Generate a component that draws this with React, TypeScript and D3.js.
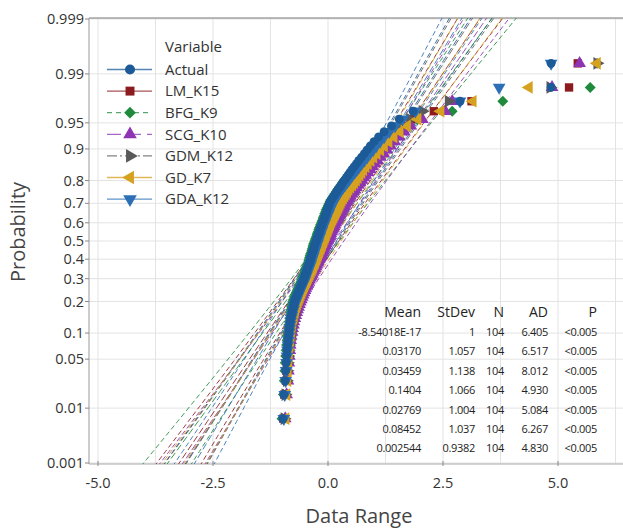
import React from 'react';
import * as d3 from 'd3';

// ---------- DATA (sorted values) ----------
const seriesNames = ['Actual', 'LM_K15', 'BFG_K9', 'SCG_K10', 'GDM_K12', 'GD_K7', 'GDA_K12'];

const actual = [-0.98, -0.96,
  -0.93, -0.92, -0.91, -0.90, -0.89, -0.88, -0.87, -0.86,
  -0.85, -0.84, -0.83, -0.82, -0.81, -0.79, -0.78, -0.77, -0.75, -0.74,
  -0.73, -0.71, -0.69, -0.67, -0.65, -0.63, -0.61, -0.59, -0.57, -0.55,
  -0.53, -0.52, -0.50, -0.49, -0.47, -0.46, -0.45, -0.43, -0.42, -0.40,
  -0.39, -0.38, -0.37, -0.36, -0.35, -0.34, -0.32, -0.31, -0.30, -0.29, -0.28, -0.26,
  -0.25, -0.24, -0.22, -0.21, -0.20, -0.18, -0.17, -0.16, -0.14, -0.13, -0.12, -0.10,
  -0.08, -0.07, -0.06, -0.04, -0.03, -0.02, 0.00, 0.01, 0.03, 0.04,
  0.07, 0.10, 0.13, 0.16, 0.19, 0.22, 0.26, 0.29, 0.32, 0.36,
  0.40, 0.44, 0.48, 0.52, 0.57, 0.62, 0.67, 0.73, 0.79, 0.85,
  0.92, 1.00, 1.10, 1.22, 1.38, 1.55,
  1.85, 2.87, 4.85, 4.85];

const lmK15 = [-0.97, -0.95,
  -0.91, -0.90, -0.89, -0.88, -0.87, -0.86, -0.85, -0.84,
  -0.83, -0.82, -0.81, -0.80, -0.79, -0.77, -0.76, -0.74, -0.73, -0.71,
  -0.69, -0.67, -0.65, -0.63, -0.61, -0.59, -0.57, -0.55, -0.53, -0.51,
  -0.49, -0.48, -0.46, -0.45, -0.43, -0.42, -0.40, -0.39, -0.37, -0.36,
  -0.35, -0.34, -0.32, -0.31, -0.30, -0.29, -0.27, -0.26, -0.25, -0.24, -0.22, -0.21,
  -0.20, -0.18, -0.17, -0.16, -0.14, -0.13, -0.11, -0.10, -0.08, -0.07, -0.05, -0.04,
  -0.02, 0.00, 0.01, 0.03, 0.05, 0.07, 0.09, 0.11, 0.13, 0.15,
  0.17, 0.20, 0.23, 0.26, 0.29, 0.32, 0.36, 0.40, 0.44, 0.48,
  0.52, 0.56, 0.61, 0.66, 0.71, 0.77, 0.83, 0.89, 0.96, 1.04,
  1.12, 1.22, 1.33, 1.46, 1.62, 1.80,
  2.30, 3.12, 5.24, 5.43];

const bfgK9 = [-1.00, -0.97,
  -0.95, -0.94, -0.93, -0.92, -0.91, -0.90, -0.89, -0.88,
  -0.87, -0.86, -0.85, -0.84, -0.83, -0.82, -0.81, -0.80, -0.79, -0.78,
  -0.77, -0.75, -0.73, -0.71, -0.69, -0.67, -0.65, -0.63, -0.61, -0.59,
  -0.57, -0.55, -0.54, -0.52, -0.51, -0.49, -0.48, -0.46, -0.45, -0.43,
  -0.42, -0.41, -0.40, -0.39, -0.38, -0.36, -0.35, -0.34, -0.33, -0.32, -0.31, -0.29,
  -0.28, -0.27, -0.25, -0.24, -0.23, -0.21, -0.20, -0.19, -0.17, -0.16, -0.14, -0.13,
  -0.11, -0.10, -0.08, -0.07, -0.05, -0.04, -0.02, 0.00, 0.02, 0.04,
  0.06, 0.09, 0.12, 0.15, 0.18, 0.21, 0.25, 0.28, 0.32, 0.36,
  0.40, 0.44, 0.49, 0.54, 0.59, 0.65, 0.71, 0.78, 0.85, 0.93,
  1.02, 1.12, 1.25, 1.40, 1.60, 1.95,
  2.70, 3.80, 5.70, 5.85];

const scgK10 = [-0.93, -0.90,
  -0.87, -0.86, -0.85, -0.84, -0.83, -0.82, -0.81, -0.80,
  -0.78, -0.77, -0.75, -0.74, -0.72, -0.70, -0.68, -0.66, -0.64, -0.62,
  -0.60, -0.58, -0.56, -0.54, -0.52, -0.50, -0.48, -0.46, -0.44, -0.42,
  -0.40, -0.38, -0.36, -0.34, -0.32, -0.30, -0.28, -0.26, -0.24, -0.22,
  -0.21, -0.19, -0.17, -0.15, -0.14, -0.12, -0.10, -0.09, -0.07, -0.05, -0.04, -0.02,
  0.00, 0.01, 0.03, 0.05, 0.06, 0.08, 0.10, 0.12, 0.13, 0.15, 0.17, 0.19,
  0.21, 0.23, 0.25, 0.27, 0.29, 0.31, 0.34, 0.36, 0.38, 0.41,
  0.43, 0.46, 0.49, 0.52, 0.55, 0.58, 0.62, 0.66, 0.70, 0.74,
  0.78, 0.82, 0.87, 0.92, 0.97, 1.02, 1.08, 1.14, 1.21, 1.28,
  1.36, 1.45, 1.55, 1.66, 1.80, 2.05,
  2.55, 2.70, 4.87, 5.47];

const gdmK12 = [-0.95, -0.93,
  -0.90, -0.89, -0.88, -0.87, -0.86, -0.85, -0.84, -0.83,
  -0.82, -0.81, -0.80, -0.78, -0.77, -0.75, -0.74, -0.72, -0.71, -0.69,
  -0.67, -0.65, -0.63, -0.61, -0.59, -0.57, -0.55, -0.53, -0.51, -0.49,
  -0.47, -0.46, -0.44, -0.43, -0.41, -0.40, -0.38, -0.37, -0.35, -0.34,
  -0.33, -0.31, -0.30, -0.29, -0.27, -0.26, -0.25, -0.23, -0.22, -0.21, -0.19, -0.18,
  -0.17, -0.15, -0.14, -0.12, -0.11, -0.10, -0.08, -0.07, -0.05, -0.04, -0.02, -0.01,
  0.01, 0.03, 0.05, 0.07, 0.09, 0.11, 0.13, 0.15, 0.17, 0.19,
  0.21, 0.24, 0.27, 0.30, 0.33, 0.36, 0.40, 0.44, 0.48, 0.52,
  0.56, 0.60, 0.65, 0.70, 0.75, 0.80, 0.86, 0.92, 0.99, 1.06,
  1.14, 1.23, 1.33, 1.45, 1.60, 1.78,
  2.05, 2.62, 4.83, 5.85];

const gdK7 = [-0.92, -0.90,
  -0.88, -0.87, -0.86, -0.85, -0.84, -0.83, -0.82, -0.81,
  -0.80, -0.79, -0.78, -0.77, -0.75, -0.74, -0.72, -0.71, -0.69, -0.67,
  -0.65, -0.63, -0.61, -0.59, -0.57, -0.55, -0.53, -0.51, -0.49, -0.47,
  -0.45, -0.43, -0.41, -0.39, -0.37, -0.35, -0.33, -0.32, -0.30, -0.28,
  -0.27, -0.25, -0.24, -0.22, -0.21, -0.19, -0.18, -0.16, -0.15, -0.13, -0.12, -0.10,
  -0.09, -0.07, -0.06, -0.04, -0.03, -0.01, 0.00, 0.02, 0.03, 0.05, 0.06, 0.08,
  0.10, 0.12, 0.14, 0.16, 0.18, 0.20, 0.22, 0.24, 0.26, 0.28,
  0.30, 0.33, 0.36, 0.39, 0.42, 0.45, 0.49, 0.53, 0.57, 0.61,
  0.65, 0.69, 0.73, 0.77, 0.82, 0.87, 0.93, 0.99, 1.06, 1.14,
  1.22, 1.32, 1.43, 1.56, 1.72, 1.95,
  2.45, 3.15, 4.37, 5.85];

const gdaK12 = [-0.96, -0.94,
  -0.92, -0.91, -0.90, -0.89, -0.88, -0.87, -0.86, -0.85,
  -0.84, -0.83, -0.82, -0.81, -0.80, -0.78, -0.77, -0.75, -0.74, -0.72,
  -0.70, -0.68, -0.66, -0.64, -0.62, -0.60, -0.58, -0.56, -0.54, -0.52,
  -0.50, -0.49, -0.47, -0.46, -0.44, -0.43, -0.41, -0.40, -0.38, -0.37,
  -0.36, -0.35, -0.33, -0.32, -0.31, -0.30, -0.28, -0.27, -0.26, -0.25, -0.23, -0.22,
  -0.21, -0.20, -0.18, -0.17, -0.16, -0.14, -0.13, -0.12, -0.10, -0.09, -0.07, -0.06,
  -0.04, -0.03, -0.01, 0.01, 0.02, 0.04, 0.06, 0.08, 0.10, 0.12,
  0.14, 0.17, 0.20, 0.23, 0.26, 0.29, 0.33, 0.37, 0.41, 0.45,
  0.49, 0.53, 0.58, 0.63, 0.68, 0.73, 0.79, 0.85, 0.91, 0.98,
  1.05, 1.13, 1.22, 1.33, 1.46, 1.62,
  1.90, 2.87, 3.72, 4.85];

const seriesValues = [actual, lmK15, bfgK9, scgK10, gdmK12, gdK7, gdaK12];
// order in which the point layers are painted (Actual on top)
const drawOrder = [1, 2, 3, 4, 5, 6, 0];

// summary table
const tableHeaders = ['Mean', 'StDev', 'N', 'AD', 'P'];
const means = [-8.54018e-17, 0.03170, 0.03459, 0.1404, 0.02769, 0.08452, 0.002544];
const stdevs = [1, 1.057, 1.138, 1.066, 1.004, 1.037, 0.9382];
const meanLabels = ['-8.54018E-17', '0.03170', '0.03459', '0.1404', '0.02769', '0.08452', '0.002544'];
const stdevLabels = ['1', '1.057', '1.138', '1.066', '1.004', '1.037', '0.9382'];
const nLabels = ['104', '104', '104', '104', '104', '104', '104'];
const adLabels = ['6.405', '6.517', '8.012', '4.930', '5.084', '6.267', '4.830'];
const pLabels = ['<0.005', '<0.005', '<0.005', '<0.005', '<0.005', '<0.005', '<0.005'];

// axes
const xTicks = [-5, -2.5, 0, 2.5, 5];
const xGrid = [-5, -3.75, -2.5, -1.25, 0, 1.25, 2.5, 3.75, 5, 6.25];
const yTicks = [0.001, 0.01, 0.05, 0.1, 0.2, 0.3, 0.4, 0.5, 0.6, 0.7, 0.8, 0.9, 0.95, 0.99, 0.999];
const yTickLabels = ['0.001', '0.01', '0.05', '0.1', '0.2', '0.3', '0.4', '0.5', '0.6', '0.7', '0.8', '0.9', '0.95', '0.99', '0.999'];

// ---------- STYLE ----------
const colors = ['#1d5b98', '#8c1b1f', '#1f8a3b', '#8e33b3', '#5a5a5a', '#d6a11f', '#2c6fb6'];
const legendDash = ['', '', '5,4', '14,6', '10,3,2,3', '', ''];
const FONT = "'Open Sans', 'Noto Sans', sans-serif";

const W = 623, H = 528;
const plotLeft = 89, plotRight = 623, plotTop = 18, plotBottom = 464;

function qnorm(p: number): number {
  const a = [-3.969683028665376e+01, 2.209460984245205e+02, -2.759285104469687e+02, 1.383577518672690e+02, -3.066479806614716e+01, 2.506628277459239e+00];
  const b = [-5.447609879822406e+01, 1.615858368580409e+02, -1.556989798598866e+02, 6.680131188771972e+01, -1.328068155288572e+01];
  const c = [-7.784894002430293e-03, -3.223964580411365e-01, -2.400758277161838e+00, -2.549732539343734e+00, 4.374664141464968e+00, 2.938163982698783e+00];
  const d = [7.784695709041462e-03, 3.224671290700398e-01, 2.445134137142996e+00, 3.754408661907416e+00];
  const plow = 0.02425, phigh = 1 - plow;
  if (p < plow) {
    const q = Math.sqrt(-2 * Math.log(p));
    return (((((c[0] * q + c[1]) * q + c[2]) * q + c[3]) * q + c[4]) * q + c[5]) / ((((d[0] * q + d[1]) * q + d[2]) * q + d[3]) * q + 1);
  }
  if (p <= phigh) {
    const q = p - 0.5, r = q * q;
    return (((((a[0] * r + a[1]) * r + a[2]) * r + a[3]) * r + a[4]) * r + a[5]) * q / (((((b[0] * r + b[1]) * r + b[2]) * r + b[3]) * r + b[4]) * r + 1);
  }
  const q = Math.sqrt(-2 * Math.log(1 - p));
  return -(((((c[0] * q + c[1]) * q + c[2]) * q + c[3]) * q + c[4]) * q + c[5]) / ((((d[0] * q + d[1]) * q + d[2]) * q + d[3]) * q + 1);
}

const xScale = d3.scaleLinear().domain([-5, 5]).range([98, 558]);
const zMin = qnorm(0.001), zMax = qnorm(0.999);
const yScale = d3.scaleLinear().domain([zMin, zMax]).range([463, 19]);

function symbolPath(i: number, size: number): { d: string; rot: number } {
  switch (i) {
    case 0: return { d: d3.symbol().type(d3.symbolCircle).size(size)()!, rot: 0 };
    case 1: return { d: d3.symbol().type(d3.symbolSquare).size(size)()!, rot: 0 };
    case 2: return { d: d3.symbol().type(d3.symbolSquare).size(size * 0.85)()!, rot: 45 };
    case 3: return { d: d3.symbol().type(d3.symbolTriangle).size(size)()!, rot: 0 };
    case 4: return { d: d3.symbol().type(d3.symbolTriangle).size(size)()!, rot: 90 };
    case 5: return { d: d3.symbol().type(d3.symbolTriangle).size(size)()!, rot: -90 };
    default: return { d: d3.symbol().type(d3.symbolTriangle).size(size)()!, rot: 180 };
  }
}

const zSamples = d3.range(0, 61).map(k => zMin - 0.05 + (zMax - zMin + 0.1) * k / 60);

export default function App() {
  const line = d3.line<[number, number]>().x(d => xScale(d[0])).y(d => yScale(d[1]));

  const fitLines = seriesValues.map((vals, s) => {
    const n = vals.length;
    const mu = means[s], sd = stdevs[s];
    const fit = zSamples.map(z => [mu + sd * z, z] as [number, number]);
    const half = (z: number) => 1.96 * sd * Math.sqrt((1 + z * z / 2) / n);
    const lo = zSamples.map(z => [mu + sd * z - half(z), z] as [number, number]);
    const hi = zSamples.map(z => [mu + sd * z + half(z), z] as [number, number]);
    return { fit: line(fit)!, lo: line(lo)!, hi: line(hi)! };
  });

  const rowY = (r: number) => 336 + r * 19.4;
  const colX = [421, 475, 504, 548, 597];
  const tableCols = [meanLabels, stdevLabels, nLabels, adLabels, pLabels];

  return (
    <svg width={W} height={H} style={{ position: 'absolute', left: 0, top: 0, background: '#fff' }} fontFamily={FONT}>
      <defs>
        <clipPath id="plotClip">
          <rect x={plotLeft} y={plotTop} width={plotRight - plotLeft} height={plotBottom - plotTop} />
        </clipPath>
      </defs>
      <rect x={0} y={0} width={W} height={H} fill="#fff" />

      {/* gridlines */}
      {xGrid.map(v => (
        <line key={'gx' + v} x1={xScale(v)} x2={xScale(v)} y1={plotTop} y2={plotBottom} stroke="#e3e3e3" strokeWidth={1} />
      ))}
      {yTicks.map(p => (
        <line key={'gy' + p} x1={plotLeft} x2={plotRight} y1={yScale(qnorm(p))} y2={yScale(qnorm(p))} stroke="#e3e3e3" strokeWidth={1} />
      ))}

      {/* frame */}
      <line x1={plotLeft} x2={plotRight} y1={plotTop} y2={plotTop} stroke="#777" strokeWidth={1.2} />
      <line x1={plotLeft} x2={plotLeft} y1={plotTop} y2={plotBottom} stroke="#aaa" strokeWidth={1.2} />
      <line x1={plotLeft} x2={plotRight} y1={plotBottom} y2={plotBottom} stroke="#aaa" strokeWidth={1.2} />

      {/* y ticks */}
      {yTicks.map((p, i) => {
        const y = yScale(qnorm(p));
        return (
          <g key={'yt' + p}>
            <line x1={plotLeft - 4} x2={plotLeft} y1={y} y2={y} stroke="#888" />
            <text x={plotLeft - 5} y={y} dy="0.35em" textAnchor="end" fontSize={14.5} fill="#333">{yTickLabels[i]}</text>
          </g>
        );
      })}
      {/* x ticks */}
      {xTicks.map(v => (
        <g key={'xt' + v}>
          <line x1={xScale(v)} x2={xScale(v)} y1={plotBottom - 3} y2={plotBottom + 2} stroke="#888" />
          <text x={xScale(v)} y={488} textAnchor="middle" fontSize={14.5} fill="#333">{v.toFixed(1)}</text>
        </g>
      ))}

      {/* axis titles */}
      <text x={359} y={523} textAnchor="middle" fontSize={20} fill="#444">Data Range</text>
      <text transform="translate(25,232) rotate(-90)" textAnchor="middle" fontSize={20} fill="#444">Probability</text>

      {/* fit lines and confidence bands */}
      <g clipPath="url(#plotClip)">
        {fitLines.map((l, s) => (
          <g key={'fl' + s} fill="none" stroke={colors[s]} strokeWidth={1} opacity={0.85}>
            <path d={l.lo} strokeDasharray="5,3" />
            <path d={l.hi} strokeDasharray="5,3" />
            <path d={l.fit} strokeDasharray="7,3" />
          </g>
        ))}
      </g>

      {/* points */}
      <g clipPath="url(#plotClip)">
        {drawOrder.map(s => {
          const vals = seriesValues[s];
          const n = vals.length;
          const sym = symbolPath(s, s === 0 ? 62 : 70);
          return (
            <g key={'pts' + s} fill={colors[s]}>
              {vals.map((v, i) => {
                const z = qnorm((i + 1 - 0.3) / (n + 0.4));
                return (
                  <path key={i} d={sym.d}
                    transform={`translate(${xScale(v)},${yScale(z)}) rotate(${sym.rot})`} />
                );
              })}
            </g>
          );
        })}
      </g>

      {/* legend */}
      <text x={165} y={52} fontSize={15} fill="#333">Variable</text>
      {seriesNames.map((name, s) => {
        const cy = 69.5 + s * 21.6;
        const sym = symbolPath(s, 80);
        return (
          <g key={'lg' + s}>
            <line x1={107} x2={152} y1={cy} y2={cy} stroke={colors[s]} strokeWidth={1.3} strokeDasharray={legendDash[s] || undefined} opacity={0.75} />
            <path d={sym.d} fill={colors[s]} transform={`translate(130,${cy}) rotate(${sym.rot})`} />
            <text x={165} y={cy} dy="0.35em" fontSize={15} fill="#333">{name}</text>
          </g>
        );
      })}

      {/* summary table */}
      {tableHeaders.map((h, c) => (
        <text key={'th' + h} x={colX[c]} y={317} textAnchor="end" fontSize={14} fill="#222">{h}</text>
      ))}
      {tableCols.map((col, c) => col.map((lab, r) => (
        <text key={`td${c}-${r}`} x={colX[c]} y={rowY(r)} textAnchor="end" fontSize={11} fill="#222" letterSpacing={-0.3}>{lab}</text>
      )))}
    </svg>
  );
}
